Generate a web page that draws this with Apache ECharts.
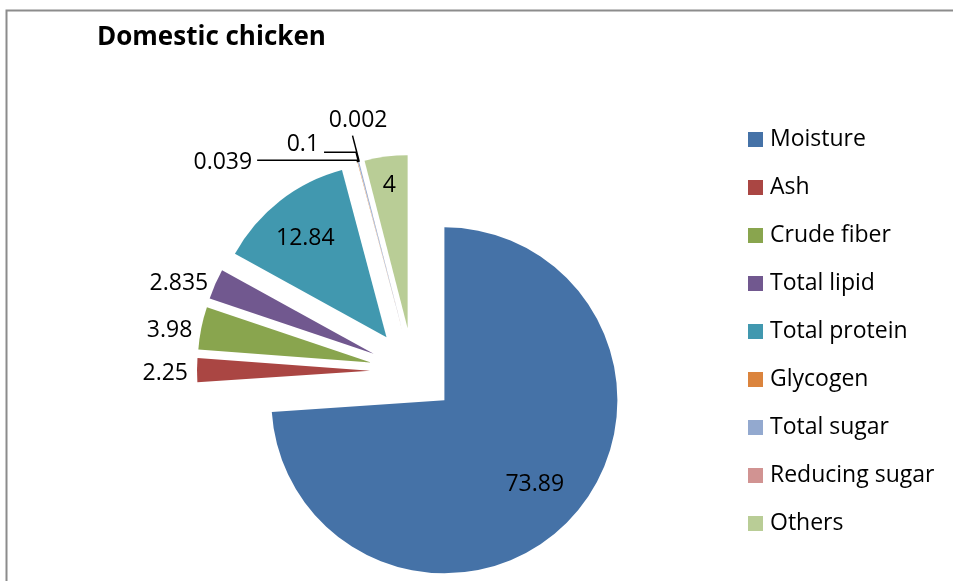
<!DOCTYPE html>
<html><head><meta charset="utf-8">
<script src="https://cdn.jsdelivr.net/npm/echarts@6/dist/echarts.min.js"></script>
<style>html,body{margin:0;padding:0;background:#fff}#c{width:953px;height:581px}</style>
</head><body><div id="c"></div>
<script>
const titleText = 'Domestic chicken';
const categories = ['Moisture','Ash','Crude fiber','Total lipid','Total protein','Glycogen','Total sugar','Reducing sugar','Others'];
const values = [73.89, 2.25, 3.98, 2.835, 12.84, 0.039, 0.1, 0.002, 4];

const colors = ['#4572A7','#AA4643','#89A54E','#71588F','#4198AF','#DB843D','#93A9CF','#D19392','#B9CD96'];
const FONT = "'Open Sans', 'Liberation Sans', sans-serif";

// label placement styles per slice (index-aligned with categories)
const labelStyles = [
  {position:'inside'},
  {position:'outside', line:false, len:0, len2:4},
  {position:'outside', line:false, len:0, len2:4},
  {position:'outside', line:false, len:0, len2:2},
  {position:'inside'},
  {position:'outside', line:true, len:2, len2:100},
  {position:'outside', line:true, len:10, len2:32},
  {position:'outside', line:true, len:27, len2:0},
  {position:'inside'}
];
const labelShift = [[25,23],[0,3],[0,2],[0,-1],[-26,-28],[0,2],[0,-8],[40,-15],[-7,-54]];

const data = categories.map((name, i) => {
  const s = labelStyles[i];
  const item = {name, value: values[i], selected: true, itemStyle: {color: colors[i]}};
  item.label = {position: s.position};
  if (s.position === 'outside') {
    item.labelLine = {show: s.line, length: s.len, length2: s.len2, lineStyle:{color:'#000', width:1.5}};
  }
  return item;
});

const chart = echarts.init(document.getElementById('c'), null, {renderer:'canvas'});
chart.setOption({
  animation: false,
  backgroundColor: '#fff',
  color: colors,
  title: {
    text: titleText, left: 92, top: 20,
    textStyle: {fontFamily: FONT, fontSize: 26, fontWeight: 'bold', color: '#000'}
  },
  legend: {
    orient: 'vertical', left: 743, top: 123,
    itemWidth: 15, itemHeight: 15, itemGap: 25,
    icon: 'rect', selectedMode: false,
    textStyle: {fontFamily: FONT, fontSize: 23, color: '#000', padding:[0,0,0,2]},
    data: categories
  },
  graphic: [{
    type: 'rect', shape: {x: 6.5, y: 10.5, width: 1000, height: 700},
    style: {fill: 'none', stroke: '#8c8c8c', lineWidth: 2}, silent: true
  }],
  series: [{
    type: 'pie',
    center: [413, 371], radius: 173,
    startAngle: 90, clockwise: true,
    selectedMode: 'multiple', selectedOffset: 43,
    avoidLabelOverlap: false,
    itemStyle: {borderWidth: 0},
    label: {
      formatter: p => String(p.value),
      fontFamily: FONT, fontSize: 23, color: '#000'
    },
    labelLayout: function (p) {
      const s = labelShift[p.dataIndex];
      return s ? {dx: s[0], dy: s[1]} : {};
    },
    data: data
  }]
});
</script></body></html>
